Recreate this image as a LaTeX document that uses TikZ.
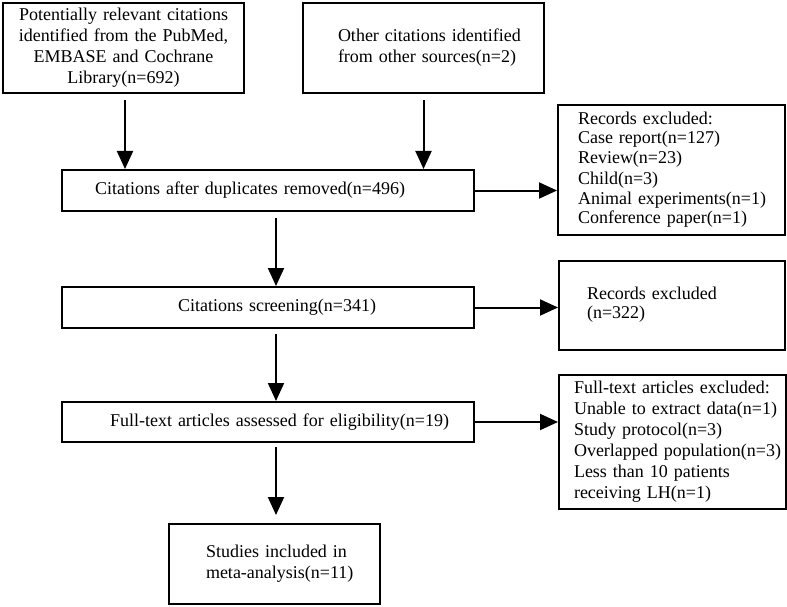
\documentclass[tikz,border=0pt]{standalone}
\usepackage{fontspec}
\setmainfont{Liberation Serif}
\usetikzlibrary{arrows.meta}
\newcommand\myleft[2]{\hspace*{#1}\begin{tabular}{@{}l@{}}#2\end{tabular}}
\begin{document}
\begin{tikzpicture}[x=1pt,y=-1pt,
  box/.style={draw, line width=2pt, rectangle, anchor=north west, inner sep=0pt,
    font=\fontsize{18pt}{21pt}\selectfont, align=left},
  arr/.style={draw, line width=2pt, -{Triangle[length=18pt,width=16pt]}}]
\useasboundingbox (0,0) rectangle (787,607);
\node[box, minimum width=241pt, minimum height=90pt, text width=241pt, align=center] (b1) at (2,2)
  {Potentially relevant citations\\identified from the PubMed,\\EMBASE and Cochrane\\Library(n=692)};
\node[box, minimum width=241pt, minimum height=90pt, text width=241pt] (b2) at (302,2)
  {\myleft{35pt}{Other citations identified\\from other sources(n=2)}};
\node[box, minimum width=412pt, minimum height=41pt, text width=412pt] (b3) at (61,169)
  {\hspace*{33pt}Citations after duplicates removed(n=496)};
\node[box, minimum width=227pt, minimum height=130pt, text width=227pt,
  font=\fontsize{18pt}{20pt}\selectfont] (ex1) at (557,104)
  {\myleft{20pt}{Records excluded:\\Case report(n=127)\\Review(n=23)\\Child(n=3)\\Animal experiments(n=1)\\Conference paper(n=1)}};
\node[box, minimum width=412pt, minimum height=41pt, text width=412pt] (b4) at (61,286)
  {\hspace*{116pt}Citations screening(n=341)};
\node[box, minimum width=226pt, minimum height=89pt, text width=226pt,
  font=\fontsize{18pt}{19pt}\selectfont] (ex2) at (558,260)
  {\myleft{28pt}{Records excluded\\(n=322)}};
\node[box, minimum width=412pt, minimum height=40pt, text width=412pt] (b5) at (61,401)
  {\hspace*{48pt}Full-text articles assessed for eligibility(n=19)};
\node[box, minimum width=227pt, minimum height=134pt, text width=227pt] (ex3) at (558,374)
  {\myleft{15pt}{Full-text articles excluded:\\Unable to extract data(n=1)\\Study protocol(n=3)\\Overlapped population(n=3)\\Less than 10 patients\\receiving LH(n=1)}};
\node[box, minimum width=211pt, minimum height=80pt, text width=211pt] (st) at (168,523)
  {\myleft{37pt}{Studies included in\\meta-analysis(n=11)}};
% vertical arrows
\coordinate (a1) at ([xshift=1.5pt,yshift=-6pt]b1.south);
\draw[arr] (a1) -- (a1 |- b3.north);
\coordinate (a2) at ([yshift=-6pt]b2.south);
\draw[arr] (a2) -- (a2 |- b3.north);
\coordinate (a3) at ([xshift=8pt,yshift=-6pt]b3.south);
\draw[arr] (a3) -- (a3 |- b4.north);
\coordinate (a4) at ([xshift=8pt,yshift=-5pt]b4.south);
\draw[arr] (a4) -- (a4 |- b5.north);
\coordinate (a5) at ([xshift=8pt,yshift=-4pt]b5.south);
\coordinate (a6) at ([yshift=8pt]a5 |- st.north);
\draw[arr] (a5) -- (a6);
% horizontal arrows
\draw[arr] (b3.east) -- (b3.east -| ex1.west);
\draw[arr] (b4.east) -- (b4.east -| ex2.west);
\draw[arr] (b5.east) -- (b5.east -| ex3.west);
\end{tikzpicture}
\end{document}
